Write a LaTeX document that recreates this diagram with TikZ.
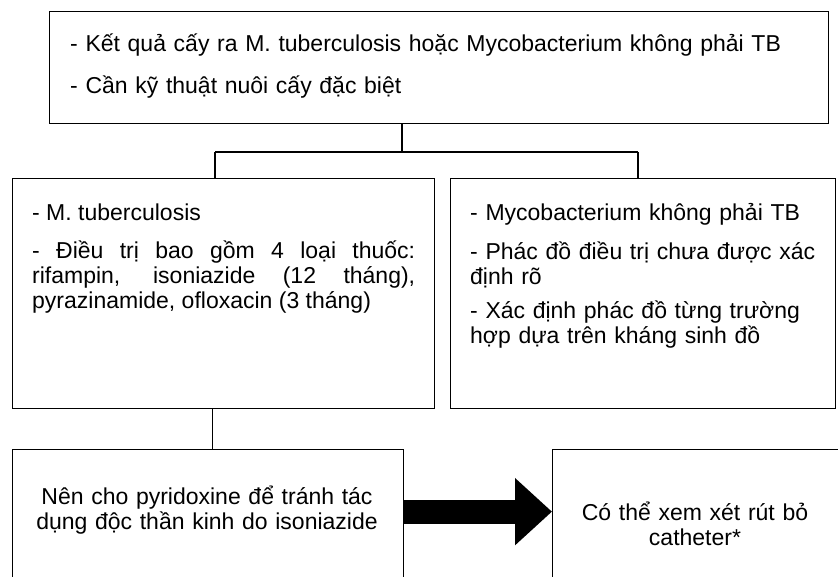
\documentclass[tikz,border=0pt]{standalone}
\usepackage{fontspec}
\setmainfont{Liberation Sans}
\usetikzlibrary{arrows.meta, positioning, calc}

\newcommand{\boxfont}{\fontsize{23}{25}\selectfont\lineskiplimit=-100pt\lineskip=0pt\parindent=0pt\parskip=0pt}

\begin{document}
\begin{tikzpicture}[
  x=1pt, y=-1pt,
  flowbox/.style={draw=black, line width=1.3pt, fill=white,
    anchor=north west, inner sep=0pt},
  txt/.style={font=\boxfont, text=black, inner sep=0pt},
  conn/.style={draw=black, line width=1.3pt},
  bigarr/.style={line width=24pt, black,
    -{Triangle[length=37pt, width=65pt]}},
]

% Page frame
\useasboundingbox (0,0) rectangle (838,576);
\clip (0,0) rectangle (838,576);
\fill[white] (0,0) rectangle (838,576);

% =============================================
% Boxes
% =============================================
\node[flowbox, minimum width=779pt, minimum height=112pt] (culture) at (49,11) {};
\node[flowbox, minimum width=422pt, minimum height=230pt] (tb) at (12,178) {};
\node[flowbox, minimum width=385pt, minimum height=230pt] (ntm) at (450,178) {};
\node[flowbox, minimum width=391pt, minimum height=160pt] (pyr) at (12,449) {};
\node[flowbox, minimum width=300pt, minimum height=160pt] (cath) at (552,449) {};

% =============================================
% Texts (first baseline at the given point)
% =============================================
\node[txt, anchor=base west, text width=750pt, align=left] (culture-txt) at (70,51)
  {- Kết quả cấy ra M. tuberculosis hoặc Mycobacterium không phải TB\\[17pt]
   - Cần kỹ thuật nuôi cấy đặc biệt};

\node[txt, anchor=base west, text width=383pt, align=justify] (tb-txt) at (32,220)
  {- M. tuberculosis\par\vspace{13pt}
   - Điều trị bao gồm 4 loại thuốc:\linebreak
   rifampin, isoniazide (12 tháng),\linebreak
   pyrazinamide, ofloxacin (3 tháng)\par};

\node[txt, anchor=base west, text width=362pt, align=left] (ntm-txt) at (470,220)
  {- Mycobacterium không phải TB\\[14pt]
   - Phác đồ điều trị chưa được xác\\
   định rõ\\[9pt]
   - Xác định phác đồ từng trường\\
   hợp dựa trên kháng sinh đồ};

\node[txt, anchor=base, text width=380pt, align=center] (pyr-txt) at (207,504)
  {Nên cho pyridoxine để tránh tác\\
   dụng độc thần kinh do isoniazide};

\node[txt, anchor=base, text width=280pt, align=center] (cath-txt) at (695,520)
  {Có thể xem xét rút bỏ\\
   catheter*};

% =============================================
% Connectors
% =============================================
\coordinate (jT) at (402,152);
\coordinate (jL) at (215,152);
\coordinate (jR) at (638,152);

\draw[conn] (jT |- culture.south) -- (jT);
\draw[conn] (jL) -- (jR);
\draw[conn] (jL) -- (jL |- tb.north);
\draw[conn] (jR) -- (jR |- ntm.north);

% TB -> pyridoxine
\draw[conn] ([xshift=-11pt]tb.south) -- ([xshift=-11pt]tb.south |- pyr.north);

% pyridoxine => catheter
\draw[bigarr] ([yshift=18pt]pyr.east) -- ([yshift=18pt]pyr.east -| cath.west);

\end{tikzpicture}
\end{document}
